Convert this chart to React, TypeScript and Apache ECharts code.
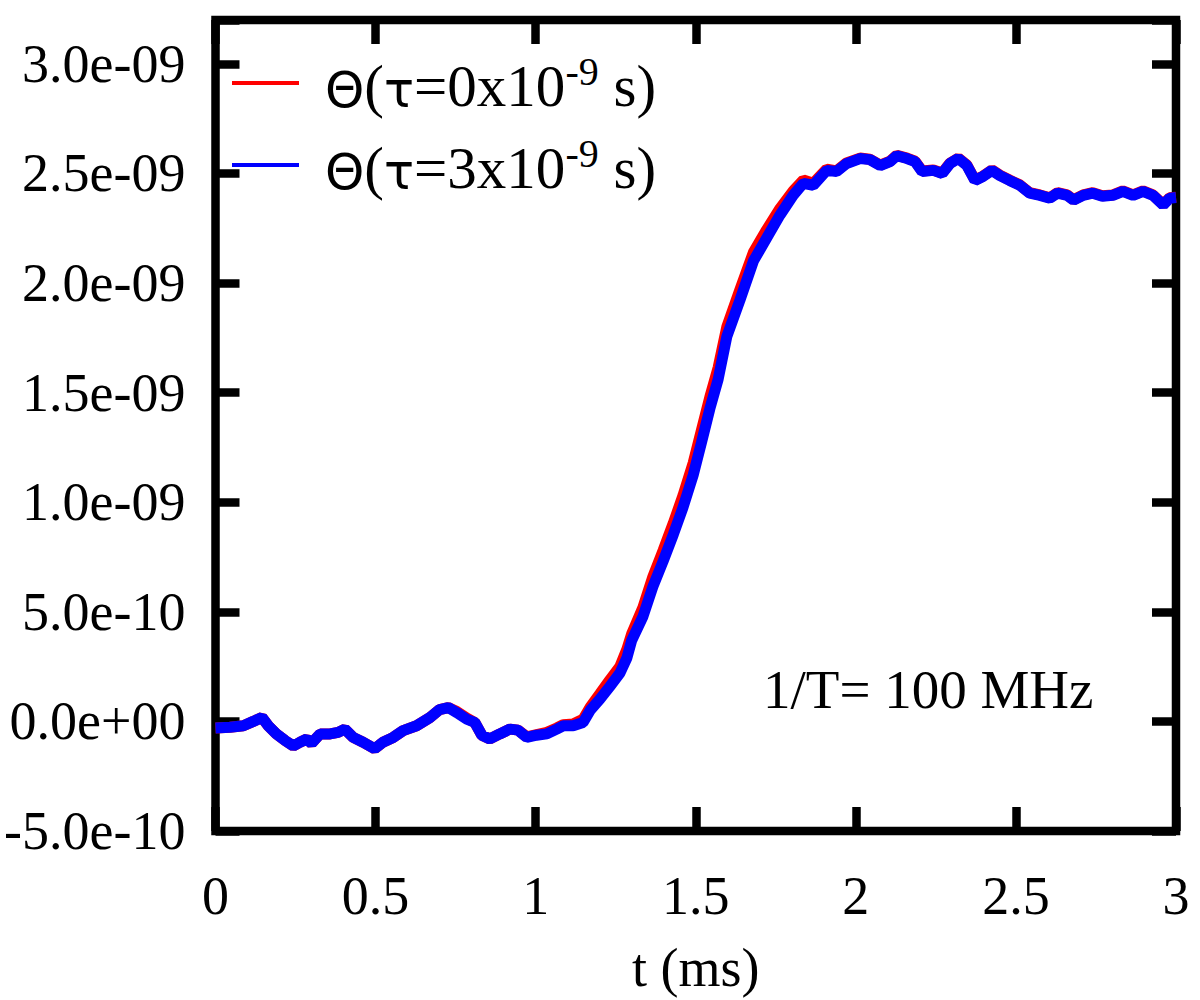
import React, { useEffect, useRef } from "react";
import * as echarts from "echarts";

// time axis (ms)
const T = [
  0.0, 0.045, 0.087, 0.118, 0.145, 0.165, 0.19, 0.217, 0.243, 0.264, 0.285, 0.3,
  0.327, 0.358, 0.383, 0.404, 0.43, 0.461, 0.497, 0.523, 0.555, 0.586, 0.628, 0.67,
  0.7, 0.727, 0.754, 0.785, 0.81, 0.832, 0.857, 0.888, 0.92, 0.945, 0.972, 1.003,
  1.035, 1.066, 1.086, 1.117, 1.148, 1.17, 1.2, 1.232, 1.263, 1.285, 1.3, 1.335,
  1.366, 1.398, 1.43, 1.46, 1.492, 1.518, 1.544, 1.57, 1.597, 1.638, 1.68, 1.722,
  1.763, 1.804, 1.836, 1.867, 1.909, 1.94, 1.971, 2.013, 2.044, 2.076, 2.107, 2.128,
  2.16, 2.185, 2.207, 2.242, 2.27, 2.294, 2.32, 2.347, 2.372, 2.397, 2.425, 2.45,
  2.48, 2.512, 2.543, 2.575, 2.606, 2.63, 2.66, 2.68, 2.71, 2.74, 2.77, 2.803,
  2.834, 2.866, 2.897, 2.928, 2.96, 2.98, 3.0,
];

// Θ values in units of 1e-9, tau = 0 ns (red)
const THETA_TAU0 = [
  -0.03, -0.027, -0.02, 0.0, 0.018, -0.02, -0.057, -0.087, -0.112, -0.095, -0.08, -0.1,
  -0.057, -0.057, -0.05, -0.035, -0.073, -0.095, -0.125, -0.095, -0.073, -0.042, -0.02, 0.018,
  0.054, 0.063, 0.045, 0.015, -0.005, -0.063, -0.08, -0.057, -0.035, -0.04, -0.07, -0.06,
  -0.05, -0.03, -0.015, -0.012, 0.01, 0.065, 0.125, 0.19, 0.25, 0.33, 0.4, 0.52,
  0.66, 0.78, 0.905, 1.03, 1.18, 1.33, 1.48, 1.615, 1.8, 1.97, 2.14, 2.245,
  2.34, 2.42, 2.47, 2.455, 2.52, 2.512, 2.548, 2.57, 2.565, 2.538, 2.556, 2.583,
  2.57, 2.556, 2.511, 2.516, 2.502, 2.547, 2.57, 2.538, 2.47, 2.488, 2.516, 2.492,
  2.47, 2.448, 2.412, 2.402, 2.389, 2.412, 2.402, 2.38, 2.402, 2.412, 2.398, 2.402,
  2.42, 2.402, 2.42, 2.402, 2.358, 2.389, 2.392,
];

// Θ values in units of 1e-9, tau = 3 ns (blue)
const THETA_TAU3 = [
  -0.03, -0.027, -0.02, 0.0, 0.018, -0.02, -0.057, -0.087, -0.112, -0.095, -0.08, -0.1,
  -0.057, -0.057, -0.05, -0.035, -0.073, -0.095, -0.125, -0.095, -0.073, -0.042, -0.02, 0.018,
  0.054, 0.063, 0.04, 0.01, -0.005, -0.063, -0.08, -0.057, -0.035, -0.04, -0.073, -0.063,
  -0.057, -0.035, -0.02, -0.02, -0.005, 0.05, 0.1, 0.16, 0.22, 0.29, 0.37, 0.478,
  0.614, 0.731, 0.853, 0.975, 1.124, 1.273, 1.426, 1.561, 1.755, 1.922, 2.1, 2.207,
  2.31, 2.4, 2.455, 2.446, 2.514, 2.509, 2.545, 2.568, 2.563, 2.536, 2.554, 2.581,
  2.568, 2.554, 2.509, 2.514, 2.5, 2.545, 2.568, 2.536, 2.468, 2.486, 2.514, 2.49,
  2.468, 2.446, 2.41, 2.4, 2.387, 2.41, 2.4, 2.378, 2.4, 2.41, 2.396, 2.4,
  2.418, 2.4, 2.418, 2.4, 2.356, 2.387, 2.39,
];

const X_TICKS = [0, 0.5, 1, 1.5, 2, 2.5, 3];
const X_TICK_LABELS = ["0", "0.5", "1", "1.5", "2", "2.5", "3"];
// y values in units of 1e-9
const Y_TICKS = [-0.5, 0, 0.5, 1, 1.5, 2, 2.5, 3];
const Y_TICK_LABELS = [
  "-5.0e-10", "0.0e+00", "5.0e-10", "1.0e-09", "1.5e-09", "2.0e-09", "2.5e-09", "3.0e-09",
];

const SERIES_NAMES = ["Θ(τ=0x10⁻⁹ s)", "Θ(τ=3x10⁻⁹ s)"];
const LEGEND_RICH_TEXT: Record<string, string> = {
  "Θ(τ=0x10⁻⁹ s)": "{p| }{g|Θ}{m|(}{g|τ}{m|=0x10}{s|-9}{m| s)}",
  "Θ(τ=3x10⁻⁹ s)": "{p| }{g|Θ}{m|(}{g|τ}{m|=3x10}{s|-9}{m| s)}",
};
const ANNOTATION = "1/T= 100 MHz";
const X_NAME = "t (ms)";

const SERIF = '"Liberation Serif", "Times New Roman", serif';
const SANS = '"DejaVu Sans", sans-serif';

function lookup(ticks: number[], labels: string[], v: number): string {
  for (let i = 0; i < ticks.length; i++) {
    if (Math.abs(ticks[i] - v) < 1e-6) return labels[i];
  }
  return "";
}

export default function App() {
  const ref = useRef<HTMLDivElement>(null);
  useEffect(() => {
    if (!ref.current) return;
    const chart = echarts.init(ref.current, undefined, { renderer: "svg" });
    const tick = { show: true, inside: true, length: 24, lineStyle: { color: "#000", width: 8.5 } };
    const noLine = { show: false, onZero: false };
    const option: any = {
      animation: false,
      backgroundColor: "#fff",
      grid: {
        left: 215.5,
        right: 24,
        top: 20,
        bottom: 160,
        show: true,
        borderColor: "#000",
        borderWidth: 8.5,
        backgroundColor: "transparent",
      },
      xAxis: [
        {
          type: "value",
          min: 0,
          max: 3,
          interval: 0.5,
          position: "bottom",
          axisLine: noLine,
          axisTick: tick,
          splitLine: { show: false },
          axisLabel: {
            margin: 38,
            fontFamily: SERIF,
            fontSize: 54,
            color: "#000",
            formatter: (v: number) => lookup(X_TICKS, X_TICK_LABELS, v),
          },
          name: X_NAME,
          nameLocation: "middle",
          nameGap: 110,
          nameTextStyle: { fontFamily: SERIF, fontSize: 54, color: "#000" },
        },
        {
          type: "value",
          min: 0,
          max: 3,
          interval: 0.5,
          position: "top",
          axisLine: noLine,
          axisTick: tick,
          splitLine: { show: false },
          axisLabel: { show: false },
        },
      ],
      yAxis: [
        {
          type: "value",
          min: -0.5,
          max: 3.2,
          interval: 0.5,
          position: "left",
          axisLine: noLine,
          axisTick: tick,
          splitLine: { show: false },
          axisLabel: {
            margin: 30,
            padding: [12, 0, 0, 0],
            fontFamily: SERIF,
            fontSize: 54,
            color: "#000",
            formatter: (v: number) => lookup(Y_TICKS, Y_TICK_LABELS, v),
          },
        },
        {
          type: "value",
          min: -0.5,
          max: 3.2,
          interval: 0.5,
          position: "right",
          axisLine: noLine,
          axisTick: tick,
          splitLine: { show: false },
          axisLabel: { show: false },
        },
      ],
      legend: {
        orient: "vertical",
        left: 232,
        top: 51,
        padding: 0,
        icon: "rect",
        itemWidth: 67,
        itemHeight: 4,
        itemGap: 18,
        data: SERIES_NAMES,
        formatter: (name: string) => LEGEND_RICH_TEXT[name],
        textStyle: {
          color: "#000",
          rich: {
            p: { width: 21, fontSize: 58, fontFamily: SERIF, lineHeight: 64 },
            m: { fontFamily: SERIF, fontSize: 59, color: "#000", lineHeight: 64, verticalAlign: "bottom" },
            g: { fontFamily: SANS, fontSize: 50, color: "#000", lineHeight: 64, verticalAlign: "bottom" },
            s: { fontFamily: SERIF, fontSize: 40, color: "#000", lineHeight: 40, verticalAlign: "top" },
          },
        },
      },
      graphic: [
        {
          type: "text",
          x: 763,
          y: 689,
          silent: true,
          style: {
            text: ANNOTATION,
            font: `55px ${SERIF}`,
            fill: "#000",
            verticalAlign: "middle",
            align: "left",
          },
        },
      ],
      series: [
        {
          name: SERIES_NAMES[0],
          type: "line",
          xAxisIndex: 0,
          yAxisIndex: 0,
          symbol: "none",
          smooth: false,
          lineStyle: { color: "#ff0000", width: 11 },
          itemStyle: { color: "#ff0000" },
          data: T.map((t, i) => [t, THETA_TAU0[i]]),
          z: 2,
        },
        {
          name: SERIES_NAMES[1],
          type: "line",
          xAxisIndex: 0,
          yAxisIndex: 0,
          symbol: "none",
          smooth: false,
          lineStyle: { color: "#0000ff", width: 11 },
          itemStyle: { color: "#0000ff" },
          data: T.map((t, i) => [t, THETA_TAU3[i]]),
          z: 3,
        },
      ],
    };
    chart.setOption(option);
    return () => chart.dispose();
  }, []);
  return (
    <div
      ref={ref}
      style={{ position: "fixed", left: 0, top: 0, width: 1200, height: 1000, background: "#fff" }}
    />
  );
}
